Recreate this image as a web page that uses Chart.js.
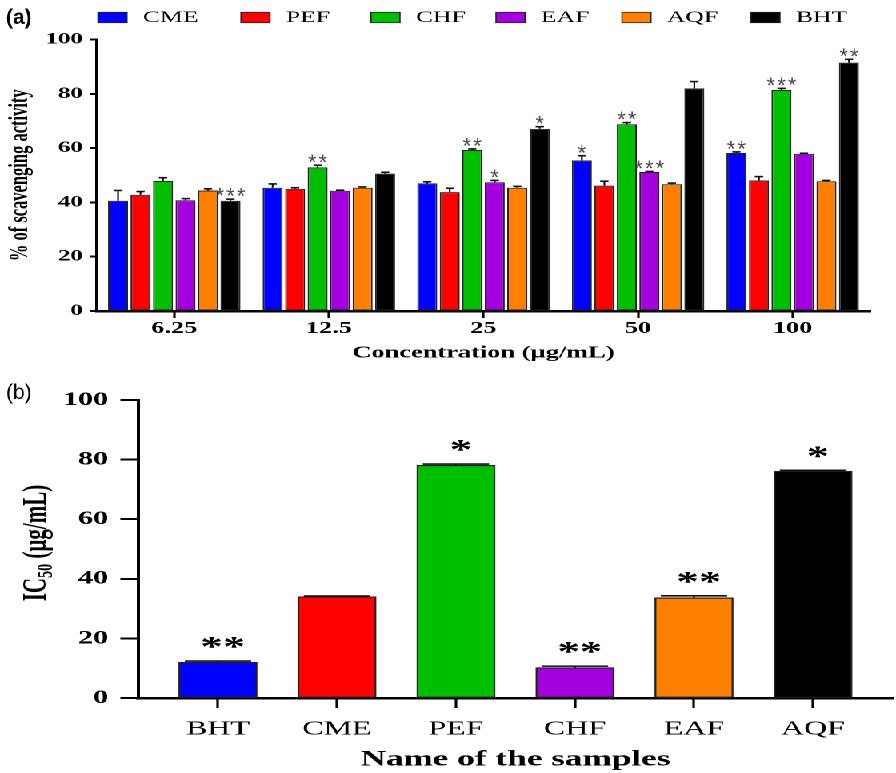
<!DOCTYPE html>
<html><head><meta charset="utf-8">
<script src="https://cdn.jsdelivr.net/npm/chart.js@4.4.1/dist/chart.umd.min.js"></script>
<style>
html,body{margin:0;padding:0;background:#fff;overflow:hidden;width:896px;height:773px;}
#wrap{position:absolute;left:0;top:0;width:560px;height:773px;transform:scaleX(1.6);transform-origin:0 0;}
#chartA{position:absolute;left:0;top:0;}
#chartB{position:absolute;left:0;top:380px;}
</style></head><body>
<div id="wrap"><canvas id="chartA" width="560" height="380"></canvas><canvas id="chartB" width="560" height="393"></canvas></div>
<script>
// ---------- data: panel (a) ----------
const concentrations = ['6.25', '12.5', '25', '50', '100'];
const seriesNames = ['CME', 'PEF', 'CHF', 'EAF', 'AQF', 'BHT'];
const cmeValues = [40.6, 45.4, 47.0, 55.5, 58.2];
const pefValues = [42.8, 45.0, 43.8, 46.2, 48.1];
const chfValues = [47.9, 52.9, 59.3, 68.8, 81.4];
const eafValues = [40.8, 44.3, 47.4, 51.2, 57.9];
const aqfValues = [44.4, 45.4, 45.4, 46.7, 47.8];
const bhtValues = [40.6, 50.6, 67.1, 82.0, 91.5];
const cmeErrors = [3.8, 1.4, 0.6, 1.7, 0.4];
const pefErrors = [1.2, 0.4, 1.4, 1.6, 1.4];
const chfErrors = [1.2, 0.8, 0.4, 0.6, 0.6];
const eafErrors = [0.6, 0.2, 0.7, 0.2, 0.2];
const aqfErrors = [0.6, 0.3, 0.5, 0.4, 0.3];
const bhtErrors = [0.6, 0.5, 0.8, 2.5, 1.2];
const cmeStars = ['', '', '', '*', '**'];
const pefStars = ['', '', '', '', ''];
const chfStars = ['', '**', '**', '**', '***'];
const eafStars = ['', '', '*', '***', ''];
const aqfStars = ['', '', '', '', ''];
const bhtStars = ['***', '', '*', '', '**'];

// ---------- data: panel (b) ----------
const samples = ['BHT', 'CME', 'PEF', 'CHF', 'EAF', 'AQF'];
const ic50Values = [12.0, 34.0, 78.1, 10.2, 33.6, 76.1];
const ic50Errors = [0.4, 0.2, 0.4, 0.5, 0.7, 0.3];
const ic50Stars = ['**', '', '*', '**', '**', '*'];

// ---------- styling ----------
const S = 1.6; // horizontal stretch of the original figure
const seriesColors = ['#0000FF', '#FF0000', '#00BE00', '#A300E0', '#FF8000', '#000000'];
const sampleColors = ['#0000FF', '#FF0000', '#00BE00', '#A300E0', '#FF8000', '#000000'];
const SERIF = '"Liberation Serif", "Times New Roman", serif';
const SANS = '"Liberation Sans", Arial, sans-serif';

const valuesA = [cmeValues, pefValues, chfValues, eafValues, aqfValues, bhtValues];
const errorsA = [cmeErrors, pefErrors, chfErrors, eafErrors, aqfErrors, bhtErrors];
const starsA = [cmeStars, pefStars, chfStars, eafStars, aqfStars, bhtStars];

function drawErrorBars(chart, capWidthFn, lw, capLw) {
  const ctx = chart.ctx, y = chart.scales.y;
  chart.data.datasets.forEach((ds, di) => {
    const meta = chart.getDatasetMeta(di);
    meta.data.forEach((bar, i) => {
      const val = meta.controller.getParsed(i).y;
      const top = y.getPixelForValue(val + ds.errorValues[i]);
      ctx.save();
      ctx.strokeStyle = '#111';
      ctx.lineWidth = lw;
      ctx.beginPath(); ctx.moveTo(bar.x, bar.y); ctx.lineTo(bar.x, top); ctx.stroke();
      const cw = capWidthFn(bar);
      ctx.lineWidth = capLw;
      ctx.beginPath(); ctx.moveTo(bar.x - cw / 2, top); ctx.lineTo(bar.x + cw / 2, top); ctx.stroke();
      ctx.restore();
      bar.$errTop = top;
    });
  });
}

const decorA = {
  id: 'decorA',
  afterDatasetsDraw(chart) {
    drawErrorBars(chart, () => 5.2, 1.1, 1.6);
    const ctx = chart.ctx;
    chart.data.datasets.forEach((ds, di) => {
      const meta = chart.getDatasetMeta(di);
      meta.data.forEach((bar, i) => {
        const st = ds.starLabels[i];
        if (!st) return;
        ctx.save();
        ctx.scale(1 / S, 1);
        ctx.font = '22px ' + SANS;
        ctx.fillStyle = '#4a4a4a';
        ctx.textAlign = 'center';
        ctx.textBaseline = 'alphabetic';
        const n = st.length, cx = bar.x * S;
        for (let k = 0; k < n; k++) {
          ctx.fillText('*', cx + (k - (n - 1) / 2) * 10.6, bar.$errTop - 8 + 12.6);
        }
        ctx.restore();
      });
    });
  },
  afterDraw(chart) {
    const ctx = chart.ctx;
    // legend
    const boxX = [98, 241, 371, 496, 622, 751];
    chart.data.datasets.forEach((ds, i) => {
      const x = boxX[i] / S;
      ctx.save();
      ctx.fillStyle = ds.backgroundColor;
      ctx.fillRect(x, 12.3, 18.1, 10.4);
      ctx.strokeStyle = '#222'; ctx.lineWidth = 0.8;
      ctx.strokeRect(x, 12.3, 18.1, 10.4);
      ctx.fillStyle = '#000';
      ctx.font = '16px ' + SERIF;
      ctx.textBaseline = 'middle';
      ctx.textAlign = 'left';
      ctx.fillText(ds.label, x + 45 / S, 17.8);
      ctx.restore();
    });
    // panel label
    ctx.save();
    ctx.scale(1 / S, 1);
    ctx.font = 'bold 21px ' + SANS;
    ctx.fillStyle = '#000';
    ctx.textBaseline = 'middle';
    ctx.fillText('(a)', 6, 18);
    ctx.restore();
  }
};

const decorB = {
  id: 'decorB',
  afterDatasetsDraw(chart) {
    drawErrorBars(chart, (bar) => bar.width * 0.85, 1.1, 1.6);
    const ctx = chart.ctx;
    const ds = chart.data.datasets[0];
    const meta = chart.getDatasetMeta(0);
    meta.data.forEach((bar, i) => {
      const st = ds.starLabels[i];
      if (!st) return;
      ctx.save();
      ctx.font = 'bold 28px ' + SERIF;
      ctx.fillStyle = '#000';
      ctx.textAlign = 'center';
      ctx.textBaseline = 'alphabetic';
      ctx.fillText(st, bar.x + 3, bar.$errTop - 19 + 14);
      ctx.restore();
    });
  },
  afterDraw(chart) {
    const ctx = chart.ctx;
    // y title with subscript
    ctx.save();
    ctx.translate(21.5, 163);
    ctx.rotate(-Math.PI / 2);
    ctx.fillStyle = '#000';
    ctx.textBaseline = 'alphabetic';
    ctx.textAlign = 'left';
    const big = 'bold 21px ' + SERIF, small = 'bold 14px ' + SERIF;
    ctx.font = big; const w1 = ctx.measureText('IC').width; const w3 = ctx.measureText(' (µg/mL)').width;
    ctx.font = small; const w2 = ctx.measureText('50').width;
    let x = -(w1 + w2 + w3) / 2;
    const base = 7;
    ctx.font = big; ctx.fillText('IC', x, base); x += w1;
    ctx.font = small; ctx.fillText('50', x, base + 4); x += w2;
    ctx.font = big; ctx.fillText(' (µg/mL)', x, base);
    ctx.restore();
    // panel label
    ctx.save();
    ctx.scale(1 / S, 1);
    ctx.font = '21px "Liberation Sans Narrow", ' + SANS;
    ctx.fillStyle = '#000';
    ctx.textBaseline = 'middle';
    ctx.fillText('(b)', 6, 13);
    ctx.restore();
  }
};

new Chart(document.getElementById('chartA'), {
  type: 'bar',
  data: {
    labels: concentrations,
    datasets: seriesNames.map((name, i) => ({
      label: name,
      data: valuesA[i],
      errorValues: errorsA[i],
      starLabels: starsA[i],
      backgroundColor: seriesColors[i],
      borderColor: '#222',
      borderWidth: 1,
      borderSkipped: false,
      categoryPercentage: 0.873,
      barPercentage: 0.889
    }))
  },
  options: {
    responsive: false,
    animation: false,
    devicePixelRatio: 2,
    layout: { padding: { top: 39.5, right: 16.25, left: 0, bottom: 0 } },
    plugins: { legend: { display: false }, tooltip: { enabled: false } },
    scales: {
      x: {
        type: 'category',
        offset: true,
        grid: { offset: false, drawOnChartArea: false, drawTicks: true, tickLength: 7, tickWidth: 1.6, tickColor: '#000' },
        border: { display: true, color: '#000', width: 2.5 },
        ticks: { font: { family: SERIF, size: 16.5, weight: 'bold' }, color: '#000', padding: 1, maxRotation: 0, autoSkip: false },
        title: { display: true, text: 'Concentration (µg/mL)', font: { family: SERIF, size: 16.5, weight: 'bold' }, color: '#000', padding: { top: 0, bottom: 17 } },
        afterFit: (s) => { s.height = 69; }
      },
      y: {
        min: 0, max: 100,
        ticks: { stepSize: 20, font: { family: SERIF, size: 15.5, weight: 'bold' }, color: '#000', padding: 4.5 },
        grid: { drawOnChartArea: false, drawTicks: true, tickLength: 4.4, tickWidth: 2, tickColor: '#000' },
        border: { display: true, color: '#000', width: 2 },
        title: { display: true, text: '% of scavenging activity', font: { family: SERIF, size: 16.5, weight: 'bold' }, color: '#000', padding: { top: 3, bottom: 0 } },
        afterFit: (s) => { s.width = 60.6; }
      }
    }
  },
  plugins: [decorA]
});

new Chart(document.getElementById('chartB'), {
  type: 'bar',
  data: {
    datasets: [{
      label: 'IC50',
      data: samples.map((s, i) => ({ x: i, y: ic50Values[i] })),
      errorValues: ic50Errors,
      starLabels: ic50Stars,
      backgroundColor: sampleColors,
      borderColor: '#222',
      borderWidth: 1.2,
      borderSkipped: false,
      barThickness: 48.75
    }]
  },
  options: {
    responsive: false,
    animation: false,
    devicePixelRatio: 2,
    layout: { padding: { top: 20, right: 1.9, left: 0, bottom: 0 } },
    plugins: { legend: { display: false }, tooltip: { enabled: false } },
    scales: {
      x: {
        type: 'linear',
        min: -0.672, max: 5.672,
        offset: false,
        grid: { offset: false, drawOnChartArea: false, drawTicks: true, tickLength: 10, tickWidth: 1.6, tickColor: '#000' },
        border: { display: true, color: '#000', width: 2.5 },
        ticks: {
          stepSize: 1, includeBounds: false, autoSkip: false, maxRotation: 0,
          callback: (v) => (Number.isInteger(v) && samples[v] !== undefined) ? samples[v] : '',
          font: { family: SERIF, size: 20 }, color: '#000', padding: 9
        },
        title: { display: true, text: 'Name of the samples', font: { family: SERIF, size: 22, weight: 'bold' }, color: '#000', padding: { top: 0, bottom: 0 } },
        afterFit: (s) => { s.height = 75; }
      },
      y: {
        min: 0, max: 100,
        ticks: { stepSize: 20, font: { family: SERIF, size: 19, weight: 'bold' }, color: '#000', padding: 7.5 },
        grid: { drawOnChartArea: false, drawTicks: true, tickLength: 11, tickWidth: 2, tickColor: '#000' },
        border: { display: true, color: '#000', width: 2 },
        title: { display: false },
        afterFit: (s) => { s.width = 86.25; }
      }
    }
  },
  plugins: [decorB]
});
</script>
</body></html>
